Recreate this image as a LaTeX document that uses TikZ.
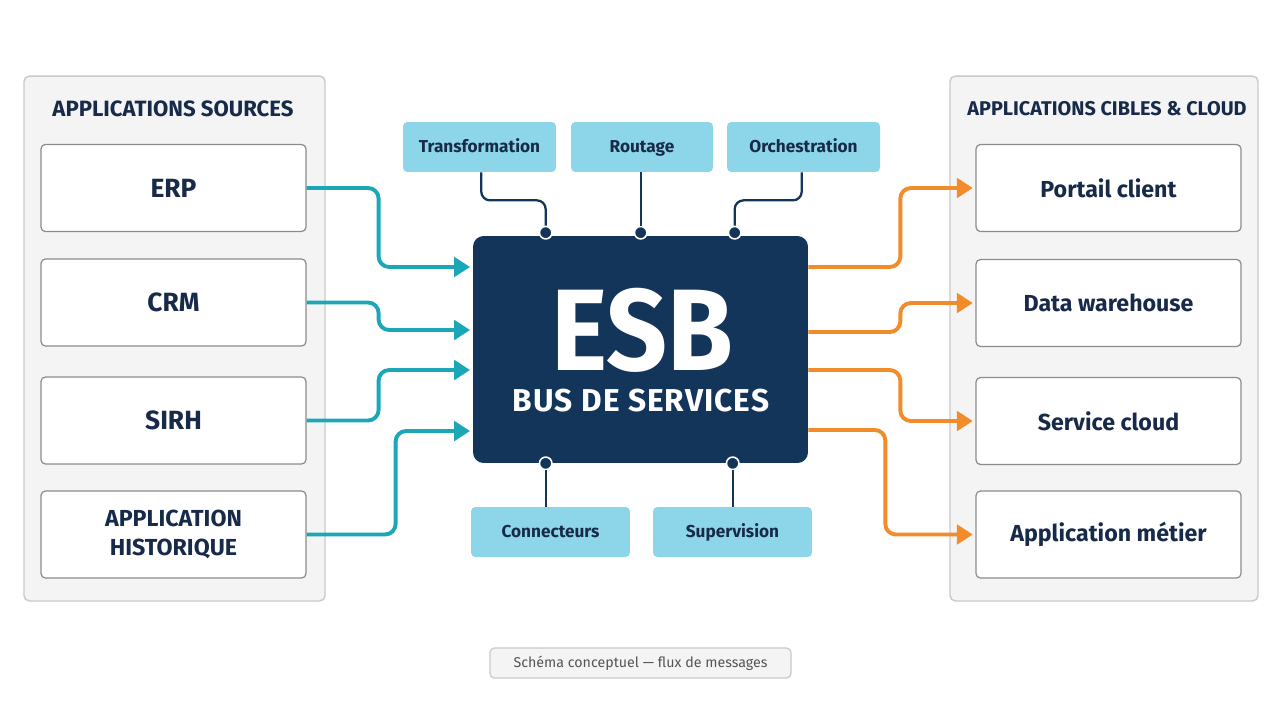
\documentclass[tikz,border=0pt]{standalone}
\usepackage{fontspec}
\setmainfont{Fira Sans}
\newfontfamily\esbspaced{Fira Sans}[LetterSpace=3.2]
\newfontfamily\esbnarrow{Fira Sans}[FakeStretch=0.92]
\usepackage{tikz}
\usetikzlibrary{arrows.meta,calc}
\definecolor{esbNavy}{HTML}{13355A}
\definecolor{inkNavy}{HTML}{172A4A}
\definecolor{panelFill}{HTML}{F4F4F4}
\definecolor{panelLine}{HTML}{C9C9C9}
\definecolor{boxLine}{HTML}{8C8C8C}
\definecolor{svcCyan}{HTML}{8DD5E8}
\definecolor{flowTeal}{HTML}{1BA7B7}
\definecolor{flowOrange}{HTML}{F28B2A}
\definecolor{capGray}{HTML}{555555}
\tikzset{
  pPanel/.style={draw=panelLine,fill=panelFill,rounded corners=3pt,line width=.8pt,
        minimum height=10.5cm},
  pTitle/.style={font=\fontsize{12.6}{15}\selectfont\bfseries,text=inkNavy},
  appBox/.style={draw=boxLine,fill=white,rounded corners=2.5pt,line width=.7pt,
        minimum width=5.3cm,minimum height=1.74cm,align=center,text=inkNavy,
        font=\fontsize{15}{17}\selectfont\bfseries},
  svcBox/.style={fill=svcCyan,rounded corners=2.5pt,minimum height=1cm,text=inkNavy,
        text height=6.8pt,text depth=0pt,font=\fontsize{9.8}{12}\selectfont\bfseries},
  esbBox/.style={fill=esbNavy,rounded corners=6pt,minimum width=6.7cm,minimum height=4.54cm},
  esbBig/.style={text=white,inner sep=0pt,font=\esbnarrow\fontsize{66}{68}\selectfont\bfseries},
  esbSub/.style={text=white,inner sep=0pt,font=\esbspaced\fontsize{18}{20}\selectfont\bfseries},
  port/.style={circle,fill=esbNavy,draw=white,line width=.9pt,inner sep=0pt,minimum size=.25cm},
  svcLink/.style={draw=esbNavy,line width=1.3pt,rounded corners=5pt},
  inFlow/.style={draw=flowTeal,line width=2.2pt,rounded corners=6pt,shorten >=1.5pt,
        -{Triangle[length=9pt,width=11pt]}},
  outFlow/.style={inFlow,draw=flowOrange},
  capBox/.style={draw=panelLine,fill=panelFill,rounded corners=2.5pt,line width=.7pt,
        minimum width=6.02cm,minimum height=.6cm,text=capGray,font=\fontsize{8.1}{10}\selectfont},
}
\begin{document}
\begin{tikzpicture}[x=0.02cm,y=-0.02cm]
\fill[white] (0,0) rectangle (1280,720);

\node[pPanel,minimum width=6.02cm] (srcPanel) at (174.5,338.5) {};
\node[pPanel,minimum width=6.16cm] (tgtPanel) at (1104,338.5) {};
\node[pTitle] (srcTitle) at (173,109) {APPLICATIONS SOURCES};
\node[pTitle,font=\fontsize{11.3}{14}\selectfont\bfseries] (tgtTitle) at (1107,109) {APPLICATIONS CIBLES \& CLOUD};

\node[appBox] (erp)  at (173.5,188)   {ERP};
\node[appBox] (crm)  at (173.5,302.5) {CRM};
\node[appBox] (sirh) at (173.5,420.5) {SIRH};
\node[appBox,font=\fontsize{13.2}{16.5}\selectfont\bfseries] (hist) at (173.5,534.5) {APPLICATION\\HISTORIQUE};

\node[appBox,font=\fontsize{13.2}{16}\selectfont\bfseries] (portail) at (1108.5,188)   {Portail client};
\node[appBox,font=\fontsize{13.2}{16}\selectfont\bfseries] (dwh)     at (1108.5,303)   {Data warehouse};
\node[appBox,font=\fontsize{13.2}{16}\selectfont\bfseries] (cloud)   at (1108.5,421)   {Service cloud};
\node[appBox,font=\fontsize{13.2}{16}\selectfont\bfseries] (metier)  at (1108.5,534.5) {Application métier};

\node[esbBox] (esb) at (640.5,349.5) {};
\node[esbBig] (esbWord) at (642,330) {ESB};
\node[esbSub] (esbName) at (641,401) {BUS DE SERVICES};

\node[svcBox,minimum width=3.06cm] (trans) at (479.5,147) {Transformation};
\node[svcBox,minimum width=2.84cm] (rout)  at (642,147)   {Routage};
\node[svcBox,minimum width=3.06cm] (orch)  at (803.5,147) {Orchestration};
\node[svcBox,minimum width=3.18cm] (conn)  at (550.5,532) {Connecteurs};
\node[svcBox,minimum width=3.18cm] (superv) at (732.5,532) {Supervision};

\node[port] (tPort1) at ($(esb.north west)+(73,-3)$) {};
\node[port] (tPort2) at ($(esb.north west)+(168,-3)$) {};
\node[port] (tPort3) at ($(esb.north west)+(262,-3)$) {};
\node[port] (bPort1) at ($(esb.south west)+(73,0)$) {};
\node[port] (bPort2) at ($(esb.south west)+(260,0)$) {};

\draw[svcLink] ([xshift=1pt]trans.south) -- ++(0,28) -| (tPort1.north);
\draw[svcLink] (tPort2 |- rout.south) -- (tPort2.north);
\draw[svcLink] ([xshift=-1pt]orch.south) -- ++(0,28) -| (tPort3.north);
\draw[svcLink] (bPort1.south) -- (bPort1 |- conn.north);
\draw[svcLink] (bPort2.south) -- (bPort2 |- superv.north);

\draw[inFlow] (erp.east) -- ++(72,0) |- ($(esb.west)+(0,-82.5)$);
\draw[inFlow] (crm.east) -- ++(72,0) |- ($(esb.west)+(0,-19.5)$);
\draw[inFlow] (sirh.east) -- ++(72,0) |- ($(esb.west)+(0,20.5)$);
\draw[inFlow] (hist.east) -- ++(89,0) |- ($(esb.west)+(0,81.5)$);

\draw[outFlow] ($(esb.east)+(0,-82.5)$) -- ++(92,0) |- (portail.west);
\draw[outFlow] ($(esb.east)+(0,-17.5)$) -- ++(92,0) |- (dwh.west);
\draw[outFlow] ($(esb.east)+(0,20.5)$) -- ++(92,0) |- (cloud.west);
\draw[outFlow] ($(esb.east)+(0,80.5)$) -- ++(77,0) |- (metier.west);

\node[capBox] (caption) at (640.5,663) {Schéma conceptuel — flux de messages};
\end{tikzpicture}
\end{document}
